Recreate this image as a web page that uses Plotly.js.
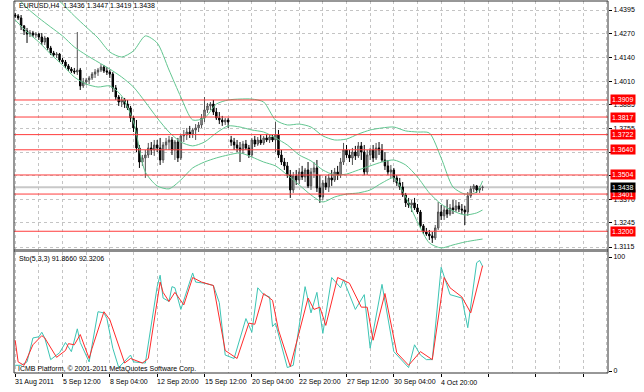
<!DOCTYPE html>
<html>
<head>
<meta charset="utf-8">
<script src="https://cdn.plot.ly/plotly-3.0.1.min.js"></script>
<style>html,body{margin:0;padding:0;background:#fff;}#chart{width:644px;height:392px;}</style>
</head>
<body>
<div id="chart"></div>
<script>
// ---- candle data (H4 EURUSD) ----
const open = [
1.4368,1.4363,1.4352,1.4309,1.4282,1.4265,1.4271,1.4260,1.4265,1.4249,
1.4222,1.4244,1.4190,1.4163,1.4152,1.4157,1.4125,1.4114,1.4093,1.4076,
1.4066,1.4060,1.4071,1.3985,1.4006,1.4017,1.4028,1.4049,1.4060,1.4071,
1.4087,1.4066,1.4060,1.4049,1.3974,1.3925,1.3898,1.3909,1.3887,1.3866,
1.3812,1.3758,1.3650,1.3574,1.3596,1.3612,1.3650,1.3639,1.3666,1.3650,
1.3585,1.3666,1.3682,1.3693,1.3639,1.3682,1.3596,1.3715,1.3720,1.3736,
1.3725,1.3747,1.3758,1.3774,1.3812,1.3855,1.3877,1.3887,1.3844,1.3812,
1.3801,1.3790,1.3801,1.3693,1.3682,1.3666,1.3650,1.3639,1.3671,1.3650,
1.3612,1.3693,1.3671,1.3693,1.3677,1.3704,1.3693,1.3709,1.3693,1.3720,
1.3612,1.3574,1.3553,1.3504,1.3423,1.3499,1.3477,1.3520,1.3493,1.3531,
1.3445,1.3520,1.3542,1.3434,1.3385,1.3461,1.3439,1.3488,1.3477,1.3520,
1.3504,1.3574,1.3639,1.3612,1.3596,1.3628,1.3607,1.3661,1.3628,1.3520,
1.3612,1.3639,1.3596,1.3650,1.3639,1.3585,1.3553,1.3520,1.3531,1.3488,
1.3461,1.3439,1.3396,1.3353,1.3342,1.3353,1.3326,1.3304,1.3229,1.3196,
1.3185,1.3175,1.3164,1.3218,1.3304,1.3283,1.3315,1.3293,1.3326,1.3315,
1.3337,1.3320,1.3315,1.3304,1.3391,1.3429,1.3445,1.3423,1.3436];
const high = [
1.4379,1.4373,1.4368,1.4314,1.4298,1.4287,1.4282,1.4276,1.4271,1.4271,
1.4255,1.4249,1.4201,1.4174,1.4168,1.4163,1.4136,1.4125,1.4103,1.4087,
1.4082,1.4276,1.4082,1.4028,1.4028,1.4039,1.4060,1.4076,1.4082,1.4103,
1.4098,1.4087,1.4071,1.4060,1.3990,1.3936,1.3925,1.3920,1.3909,1.3877,
1.3823,1.3801,1.3666,1.3612,1.3639,1.3677,1.3682,1.3693,1.3693,1.3704,
1.3682,1.3704,1.3715,1.3709,1.3693,1.3704,1.3725,1.3747,1.3758,1.3769,
1.3758,1.3779,1.3790,1.3833,1.3925,1.3893,1.3898,1.3909,1.3866,1.3844,
1.3823,1.3812,1.3812,1.3715,1.3704,1.3693,1.3682,1.3688,1.3693,1.3666,
1.3704,1.3715,1.3709,1.3720,1.3715,1.3725,1.3725,1.3720,1.3790,1.3747,
1.3639,1.3596,1.3574,1.3531,1.3520,1.3531,1.3542,1.3553,1.3542,1.3574,
1.3542,1.3574,1.3585,1.3504,1.3477,1.3499,1.3509,1.3531,1.3542,1.3553,
1.3596,1.3677,1.3666,1.3639,1.3650,1.3661,1.3682,1.3682,1.3666,1.3639,
1.3650,1.3666,1.3677,1.3682,1.3671,1.3628,1.3585,1.3558,1.3542,1.3504,
1.3488,1.3466,1.3407,1.3380,1.3369,1.3380,1.3347,1.3315,1.3239,1.3218,
1.3207,1.3196,1.3234,1.3358,1.3342,1.3337,1.3369,1.3347,1.3369,1.3369,
1.3358,1.3347,1.3337,1.3412,1.3445,1.3455,1.3450,1.3445,1.3447];
const low = [
1.4352,1.4341,1.4287,1.4260,1.4217,1.4249,1.4249,1.4244,1.4233,1.4206,
1.4206,1.4179,1.4152,1.4141,1.4136,1.4114,1.4103,1.4082,1.4066,1.4055,
1.4049,1.4044,1.3963,1.3974,1.3990,1.3995,1.4017,1.4028,1.4039,1.4060,
1.4055,1.4044,1.4028,1.3952,1.3909,1.3877,1.3871,1.3866,1.3855,1.3790,
1.3736,1.3628,1.3542,1.3553,1.3488,1.3596,1.3612,1.3607,1.3628,1.3558,
1.3569,1.3639,1.3639,1.3612,1.3585,1.3574,1.3585,1.3682,1.3693,1.3704,
1.3704,1.3693,1.3736,1.3758,1.3790,1.3839,1.3855,1.3828,1.3801,1.3779,
1.3769,1.3774,1.3758,1.3661,1.3639,1.3628,1.3574,1.3617,1.3639,1.3596,
1.3601,1.3655,1.3661,1.3666,1.3666,1.3682,1.3677,1.3682,1.3628,1.3596,
1.3558,1.3531,1.3488,1.3380,1.3407,1.3450,1.3455,1.3477,1.3466,1.3434,
1.3423,1.3488,1.3412,1.3353,1.3369,1.3423,1.3412,1.3445,1.3466,1.3477,
1.3488,1.3558,1.3596,1.3574,1.3558,1.3585,1.3596,1.3585,1.3504,1.3504,
1.3585,1.3574,1.3585,1.3612,1.3574,1.3531,1.3504,1.3488,1.3466,1.3445,
1.3423,1.3385,1.3331,1.3326,1.3304,1.3315,1.3293,1.3218,1.3185,1.3175,
1.3153,1.3137,1.3153,1.3207,1.3261,1.3261,1.3272,1.3283,1.3293,1.3304,
1.3304,1.3293,1.3234,1.3283,1.3380,1.3412,1.3407,1.3407,1.3419];
const close = [
1.4363,1.4352,1.4309,1.4282,1.4265,1.4271,1.4260,1.4265,1.4249,1.4222,
1.4244,1.4190,1.4163,1.4152,1.4157,1.4125,1.4114,1.4093,1.4076,1.4066,
1.4060,1.4071,1.3985,1.4006,1.4017,1.4028,1.4049,1.4060,1.4071,1.4087,
1.4066,1.4060,1.4049,1.3974,1.3925,1.3898,1.3909,1.3887,1.3866,1.3812,
1.3758,1.3650,1.3574,1.3596,1.3612,1.3650,1.3639,1.3666,1.3650,1.3585,
1.3666,1.3682,1.3693,1.3639,1.3682,1.3596,1.3715,1.3720,1.3736,1.3725,
1.3747,1.3758,1.3774,1.3812,1.3855,1.3877,1.3887,1.3844,1.3812,1.3801,
1.3790,1.3801,1.3790,1.3682,1.3666,1.3650,1.3639,1.3671,1.3650,1.3612,
1.3693,1.3671,1.3693,1.3677,1.3704,1.3693,1.3709,1.3693,1.3720,1.3612,
1.3574,1.3553,1.3504,1.3423,1.3499,1.3477,1.3520,1.3493,1.3531,1.3445,
1.3520,1.3542,1.3434,1.3385,1.3461,1.3439,1.3488,1.3477,1.3520,1.3504,
1.3574,1.3639,1.3612,1.3596,1.3628,1.3607,1.3661,1.3628,1.3520,1.3612,
1.3639,1.3596,1.3650,1.3639,1.3585,1.3553,1.3520,1.3531,1.3488,1.3461,
1.3439,1.3396,1.3353,1.3342,1.3353,1.3326,1.3304,1.3229,1.3196,1.3185,
1.3175,1.3164,1.3218,1.3304,1.3283,1.3315,1.3293,1.3326,1.3315,1.3337,
1.3320,1.3315,1.3304,1.3391,1.3429,1.3445,1.3423,1.3434,1.3438];

// ---- Bollinger bands (read at every 4th bar) ----
const bbIdx = [0,4,8,12,16,20,24,28,32,36,40,44,48,52,56,60,64,68,72,76,80,84,88,92,96,100,104,108,112,116,120,124,128,132,136,140,144,148,152,156,158];
const bbUpper = [1.4676,1.4611,1.4546,1.4492,1.4427,1.4363,1.4303,1.4244,1.4168,1.4141,1.4174,1.4255,1.4217,1.4071,1.3925,1.3801,1.3812,1.3887,1.3909,1.3914,1.3914,1.3898,1.3801,1.3774,1.3779,1.3763,1.3715,1.3693,1.3698,1.3725,1.3747,1.3758,1.3763,1.3742,1.3736,1.3731,1.3596,1.3439,1.3401,1.3412,1.3472];
const bbMiddle = [1.4476,1.4406,1.4352,1.4303,1.4255,1.4195,1.4152,1.4114,1.4076,1.4033,1.3979,1.3898,1.3812,1.3736,1.3682,1.3661,1.3682,1.3731,1.3769,1.3763,1.3747,1.3736,1.3704,1.3666,1.3612,1.3580,1.3531,1.3504,1.3509,1.3531,1.3553,1.3574,1.3585,1.3558,1.3493,1.3407,1.3347,1.3310,1.3288,1.3299,1.3315];
const bbLower = [1.4341,1.4276,1.4222,1.4157,1.4098,1.4033,1.3995,1.3979,1.3985,1.3931,1.3790,1.3520,1.3445,1.3429,1.3477,1.3542,1.3574,1.3596,1.3612,1.3623,1.3601,1.3574,1.3553,1.3504,1.3450,1.3396,1.3358,1.3385,1.3401,1.3407,1.3423,1.3461,1.3488,1.3385,1.3250,1.3137,1.3110,1.3126,1.3142,1.3153,1.3158];

// ---- Stochastic (5,3,3) ----
const stoMainIdx = [0,2,4,6,8,9,10,12,15,17,19,21,22,25,28,30,31,33,35,38,39,40,44,48,49,50,52,53,54,56,60,61,64,67,69,71,74,78,80,82,84,86,87,88,92,94,98,100,102,104,107,110,111,115,118,120,124,128,133,135,137,139,141,144,147,151,153,156,157,158];
const stoMain = [5,5,8,29,30,34,29,10,16,25,17,37,25,8,52,51,46,20,3,11,14,8,7,74,84,64,61,74,73,54,86,78,77,75,60,14,11,46,34,73,67,65,39,42,3,5,74,51,69,33,82,73,80,54,67,20,76,17,3,23,14,10,10,91,67,64,38,95,97,91.866];
const stoSigIdx = [0,1,3,6,9,10,14,17,18,20,22,25,26,30,32,35,37,39,43,45,49,50,52,54,57,60,63,67,71,75,79,81,84,87,89,93,99,101,103,105,109,113,117,119,121,125,129,133,137,141,145,147,151,154,158];
const stoSignal = [27,8,5,23,31,29,12,18,24,23,32,11,20,52,45,23,7,11,7,11,78,69,61,69,58,82,78,75,18,11,42,41,68,62,36,4,64,54,56,40,82,77,56,56,27,68,16,5,17,10,82,73,65,51,92.3206];

// ---- axes / levels ----
const priceTicks = [1.4395,1.4270,1.4140,1.4010,1.3885,1.3755,1.3625,1.3500,1.3370,1.3245,1.3115];
const priceTickText = ["1.4395","1.4270","1.4140","1.4010","1.3885","1.3755","","","1.3370","1.3245","1.3115"];
const levels = [1.3909,1.3817,1.3722,1.3640,1.3504,1.3401,1.3200];
const lastPrice = 1.3438;
const timeTickIdx = [0,16,32,48,64,80,96,112,128,144];
const timeTickText = ["31 Aug 2011","5 Sep 12:00","8 Sep 04:00","12 Sep 20:00","15 Sep 12:00","20 Sep 04:00","22 Sep 20:00","27 Sep 12:00","30 Sep 04:00","4 Oct 20:00"];
const titleText = "EURUSD,H4  1.3436 1.3447 1.3419 1.3438";
const stoText = "Sto(5,3,3) 91.8660 92.3206";
const copyText = "ICMB Platform, \u00a9 2001-2011 MetaQuotes Software Corp.";

const barIdx = close.map((_, i) => i);
const FONT = 'Liberation Sans, Arial, sans-serif';
const GREEN = '#62c690';

const traces = [
  {type:'candlestick', x:barIdx, open:open, high:high, low:low, close:close,
   xaxis:'x', yaxis:'y2', whiskerwidth:0,
   increasing:{line:{color:'#505050', width:1}, fillcolor:'#a8a8a8'},
   decreasing:{line:{color:'#000000', width:1}, fillcolor:'#000000'},
   hoverinfo:'skip'},
  {type:'scatter', mode:'lines', x:bbIdx, y:bbUpper, xaxis:'x', yaxis:'y2', line:{color:GREEN, width:1, shape:'spline', smoothing:0.7}, hoverinfo:'skip'},
  {type:'scatter', mode:'lines', x:bbIdx, y:bbMiddle, xaxis:'x', yaxis:'y2', line:{color:GREEN, width:1, shape:'spline', smoothing:0.7}, hoverinfo:'skip'},
  {type:'scatter', mode:'lines', x:bbIdx, y:bbLower, xaxis:'x', yaxis:'y2', line:{color:GREEN, width:1, shape:'spline', smoothing:0.7}, hoverinfo:'skip'},
  {type:'scatter', mode:'lines', x:stoMainIdx, y:stoMain, xaxis:'x', yaxis:'y', line:{color:'#3cc4b4', width:1}, hoverinfo:'skip'},
  {type:'scatter', mode:'lines', x:stoSigIdx, y:stoSignal, xaxis:'x', yaxis:'y', line:{color:'#ff2a2a', width:1}, hoverinfo:'skip'}
];

const pY = py => (373 - py) / 372;

const shapes = [
  {type:'line', xref:'paper', x0:0, x1:1, yref:'y2', y0:lastPrice, y1:lastPrice, line:{color:'#c8c8c8', width:2}, layer:'below'}
];
levels.forEach(v => shapes.push({type:'line', xref:'paper', x0:0, x1:1, yref:'y2', y0:v, y1:v, line:{color:'#ff3c3c', width:1}, layer:'above'}));
shapes.push({type:'rect', xref:'paper', yref:'paper', x0:0, x1:1, y0:pY(252), y1:pY(249), fillcolor:'#8c8c8c', line:{width:0}, layer:'above'});
shapes.push({type:'rect', xref:'paper', yref:'paper', x0:0, x1:1, y0:0, y1:1, fillcolor:'rgba(0,0,0,0)', line:{color:'#303030', width:1}, layer:'above'});

const annotations = [];
levels.forEach(v => annotations.push({xref:'paper', x:1, xanchor:'left', xshift:2, yref:'y2', y:v, yanchor:'middle',
  text:v.toFixed(4), showarrow:false, bgcolor:'#ff0000', borderpad:1, font:{family:FONT, size:7, color:'#ffffff'}}));
annotations.push({xref:'paper', x:1, xanchor:'left', xshift:2, yref:'y2', y:lastPrice, yanchor:'middle',
  text:lastPrice.toFixed(4), showarrow:false, bgcolor:'#000000', borderpad:1, font:{family:FONT, size:7, color:'#ffffff'}});
annotations.push({xref:'paper', x:(17-14)/594, xanchor:'left', yref:'paper', y:pY(6), yanchor:'middle', text:titleText, showarrow:false, font:{family:FONT, size:7, color:'#000'}});
annotations.push({xref:'paper', x:(17-14)/594, xanchor:'left', yref:'paper', y:pY(259), yanchor:'middle', text:stoText, showarrow:false, font:{family:FONT, size:7, color:'#000'}});
annotations.push({xref:'paper', x:(16-14)/594, xanchor:'left', yref:'paper', y:pY(369), yanchor:'middle', text:copyText, showarrow:false, font:{family:FONT, size:7, color:'#000'}});
timeTickIdx.forEach((ix, k) => annotations.push({xref:'x', x:ix, xanchor:'left', xshift:-2, yref:'paper', y:pY(382), yanchor:'middle',
  text:timeTickText[k], showarrow:false, font:{family:FONT, size:7, color:'#000'}}));

const layout = {
  width:644, height:392,
  margin:{l:14, r:36, t:1, b:19, pad:0},
  paper_bgcolor:'#ffffff', plot_bgcolor:'#ffffff',
  showlegend:false,
  font:{family:FONT, size:7, color:'#000'},
  xaxis:{domain:[0,1], anchor:'y', range:[-0.4,200.4], tickmode:'linear', tick0:0, dtick:16,
         showticklabels:false, ticks:'outside', ticklen:3, tickcolor:'#000',
         showgrid:true, gridcolor:'#c4c4c4', griddash:'dot', gridwidth:1,
         minor:{tick0:0, dtick:8, showgrid:true, gridcolor:'#c4c4c4', griddash:'dot', gridwidth:1, ticks:''},
         zeroline:false, showline:false, rangeslider:{visible:false}, fixedrange:true},
  yaxis:{domain:[0,pY(252)], anchor:'x', side:'right', range:[-1.75,104.4],
         tickvals:[0,100], ticktext:['0','100'], ticks:'outside', ticklen:3, tickcolor:'#000',
         showgrid:false, zeroline:false, showline:false, fixedrange:true},
  yaxis2:{domain:[pY(249),1], anchor:'x', side:'right', range:[1.31042,1.44436],
          tickvals:priceTicks, ticktext:priceTickText, ticks:'outside', ticklen:3, tickcolor:'#000',
          showgrid:true, gridcolor:'#c4c4c4', griddash:'dot', gridwidth:1,
          zeroline:false, showline:false, fixedrange:true},
  shapes:shapes,
  annotations:annotations
};

Plotly.newPlot('chart', traces, layout, {staticPlot:true, displayModeBar:false});
</script>
</body>
</html>
